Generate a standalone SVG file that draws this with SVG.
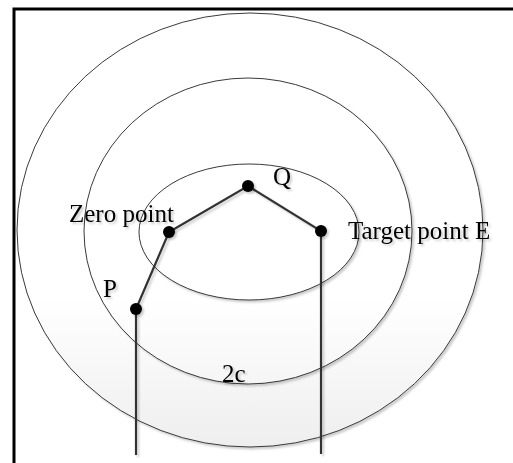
<svg xmlns="http://www.w3.org/2000/svg" width="513" height="463" viewBox="0 0 513 463">
  <defs>
    <linearGradient id="g" gradientUnits="userSpaceOnUse" x1="0" y1="300" x2="0" y2="447">
      <stop offset="0" stop-color="#ffffff"/>
      <stop offset="1" stop-color="#eeeeee"/>
    </linearGradient>
    <filter id="sh" x="-20%" y="-20%" width="140%" height="140%">
      <feDropShadow dx="2" dy="2" stdDeviation="1" flood-color="#000" flood-opacity="0.2"/>
    </filter>
    <style>
      .ring { stroke: #3a3a3a; stroke-width: 1; filter: url(#sh); }
      .seg { stroke: #333; stroke-width: 2.2; fill: none; filter: url(#sh); }
      .dot { fill: #000; filter: url(#sh); }
      .lbl { font-family: "Liberation Serif", "Times New Roman", serif; font-size: 25px; fill: #000; filter: url(#sh); }
    </style>
  </defs>
  <rect x="0" y="0" width="513" height="463" fill="#fff"/>
  <rect x="14" y="9" width="530" height="480" fill="none" stroke="#000" stroke-width="3"/>
  <g id="outer-ring"><ellipse class="ring" cx="250" cy="230" rx="233" ry="217" fill="url(#g)"/></g>
  <g id="middle-ring"><ellipse class="ring" cx="248" cy="231" rx="164" ry="153" fill="url(#g)"/></g>
  <g id="inner-ring"><ellipse class="ring" cx="249" cy="232" rx="110" ry="68" fill="#fff"/></g>
  <g id="connectors">
    <polyline class="seg" points="136,455 136,309 169,232 248,186 321,231 321,454"/>
    <line class="seg" x1="136" y1="351" x2="321" y2="351"/>
  </g>
  <g id="node-P"><circle class="dot" cx="136" cy="309" r="6"/><text class="lbl" x="103" y="297">P</text></g>
  <g id="node-zero"><circle class="dot" cx="169" cy="232" r="6"/><text class="lbl" x="69" y="222">Zero point</text></g>
  <g id="node-Q"><circle class="dot" cx="248" cy="186" r="6"/><text class="lbl" x="273" y="185">Q</text></g>
  <g id="node-E"><circle class="dot" cx="321" cy="231" r="6"/><text class="lbl" x="348" y="239">Target point E</text></g>
  <g id="label-2c"><text class="lbl" x="222" y="382">2c</text></g>
</svg>
